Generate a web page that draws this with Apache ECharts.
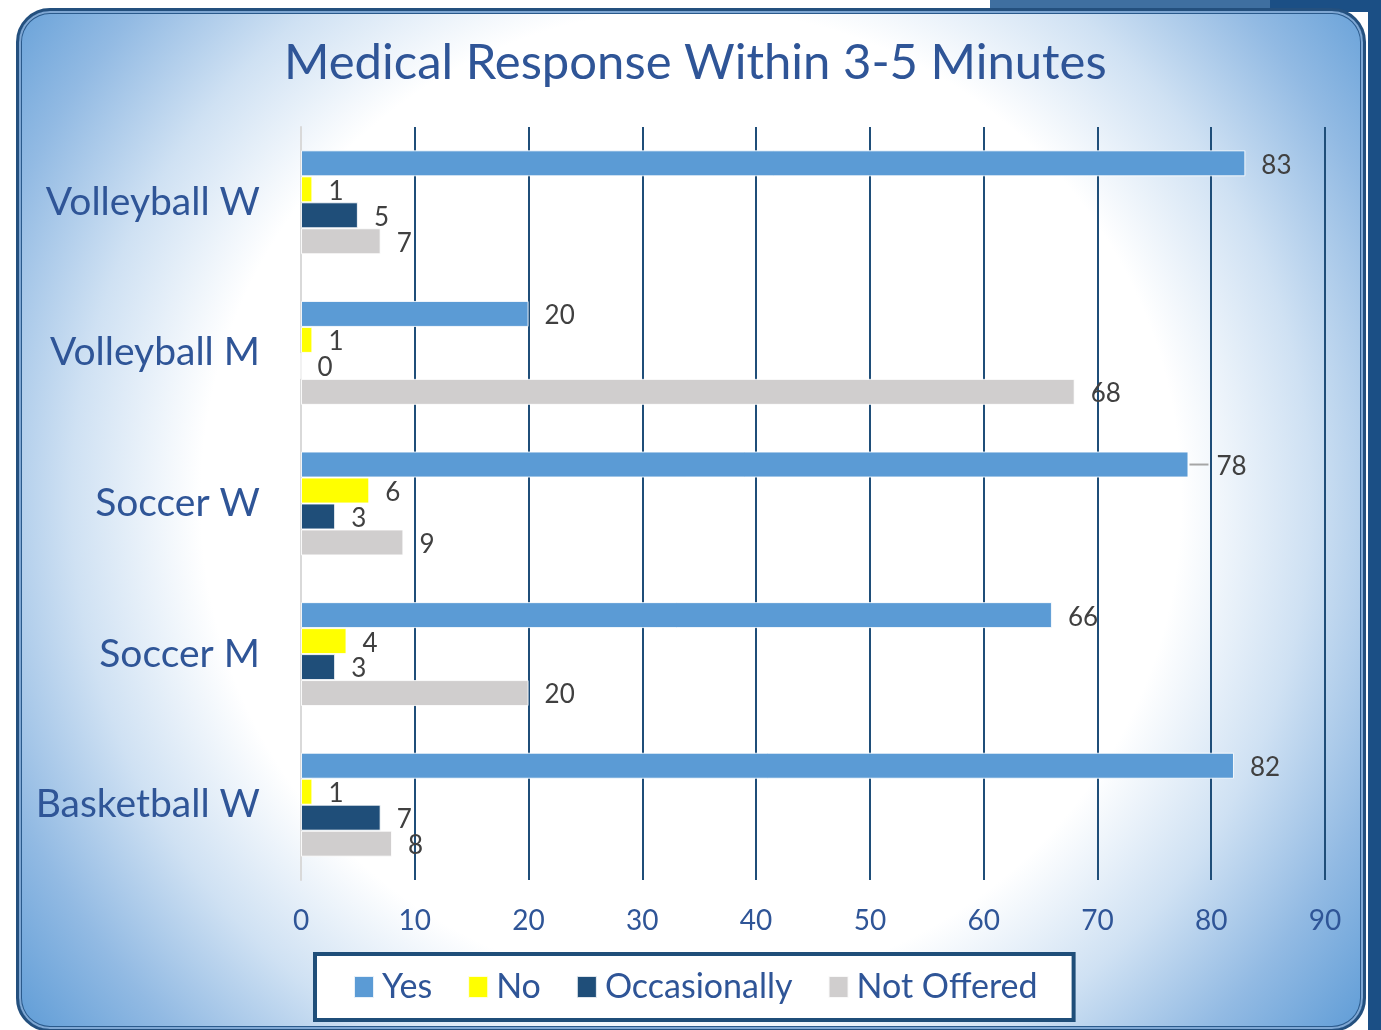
<!DOCTYPE html>
<html>
<head>
<meta charset="utf-8">
<script src="https://cdn.jsdelivr.net/npm/echarts@6/dist/echarts.min.js"></script>
<style>
  html, body { margin: 0; padding: 0; width: 1381px; height: 1030px; overflow: hidden; background: #ffffff; }
  #deco1 { position: absolute; left: 990px; top: 0; width: 391px; height: 10px; background: #3f6fa0; }
  #deco2 { position: absolute; left: 1270px; top: 0; width: 111px; height: 12px; background: #1b4f85; }
  #deco3 { position: absolute; left: 1368px; top: 0; width: 13px; height: 1030px; background: #1b4f85; }
  #frame {
    position: absolute; left: 16px; top: 8px; width: 1350px; height: 1024px;
    border: 3px solid #24507e; border-radius: 34px; box-sizing: border-box;
    box-shadow: inset 0 0 0 2px #7fa7d3, inset 0 0 0 3px #2a5a8c;
    background: radial-gradient(circle 860px at 50% 48%, #ffffff 0%, #ffffff 57%, #cfe1f3 72%, #92bae3 86%, #5d9bd6 100%);
  }
  #chart { position: absolute; left: 0; top: 0; width: 1381px; height: 1030px; }
</style>
</head>
<body>
<div id="deco1"></div><div id="deco2"></div><div id="deco3"></div>
<div id="frame"></div>
<div id="chart"></div>
<script>
const categories = ['Volleyball W', 'Volleyball M', 'Soccer W', 'Soccer M', 'Basketball W'];
const seriesNames = ['Yes', 'No', 'Occasionally', 'Not Offered'];
const yesValues = [83, 20, 78, 66, 82];
const noValues = [1, 1, 6, 4, 1];
const occasionallyValues = [5, 0, 3, 3, 7];
const notOfferedValues = [7, 68, 9, 20, 8];
const xTicks = [0, 10, 20, 30, 40, 50, 60, 70, 80, 90];

const colors = ['#5b9bd5', '#ffff00', '#1f4e79', '#d0cece'];
const allValues = [yesValues, noValues, occasionallyValues, notOfferedValues];
const FONT = 'Lato, "Open Sans", sans-serif';
const blueText = '#2f5597';
const CATEGORY_GAP = 0.31;
const LEADER_ITEM = 2; // "Soccer W" Yes label is pushed out with a leader line

const chart = echarts.init(document.getElementById('chart'), null, { renderer: 'canvas' });

const series = seriesNames.map((name, si) => ({
  name: name,
  type: 'bar',
  data: allValues[si].map((v, di) => {
    if (si === 0 && di === LEADER_ITEM) {
      return { value: v, label: { distance: 28 } };
    }
    return v;
  }),
  itemStyle: { color: colors[si], borderColor: 'rgba(255,255,255,0.85)', borderWidth: 1 },
  barGap: '0%',
  barCategoryGap: (CATEGORY_GAP * 100) + '%',
  label: {
    show: true, position: 'right', distance: 16, offset: [0, 2],
    color: '#404040', fontSize: 26, fontFamily: FONT
  }
}));

// leader line for the displaced label, placed through the axis scales
series.push({
  type: 'custom', silent: true, z: 5,
  data: [[yesValues[LEADER_ITEM], LEADER_ITEM]],
  renderItem: function (params, api) {
    const pt = api.coord([api.value(0), api.value(1)]);
    const band = api.size([0, 1])[1];
    const barH = band * (1 - CATEGORY_GAP) / seriesNames.length;
    const y = pt[1] - band * (1 - CATEGORY_GAP) / 2 + barH / 2;
    return {
      type: 'line',
      shape: { x1: pt[0] + 1, y1: y, x2: pt[0] + 20, y2: y },
      style: { stroke: '#a6a6a6', lineWidth: 2 }
    };
  }
});

chart.setOption({
  backgroundColor: 'transparent',
  animation: false,
  title: {
    text: 'Medical Response Within 3-5 Minutes',
    left: 279, top: 34,
    textStyle: { color: blueText, fontSize: 49, fontWeight: 'normal', fontFamily: FONT }
  },
  legend: {
    data: seriesNames,
    left: 315, bottom: 10,
    backgroundColor: '#ffffff',
    borderColor: '#1f4e79', borderWidth: 4, borderRadius: 0,
    padding: [16, 36, 16, 38],
    itemWidth: 20, itemHeight: 22, itemGap: 35,
    icon: 'rect',
    textStyle: { color: blueText, fontSize: 34, fontFamily: FONT, padding: [0, 0, 0, 3] }
  },
  grid: { left: 301, right: 56, top: 127, bottom: 150, containLabel: false },
  xAxis: {
    type: 'value', min: 0, max: 90, interval: 10,
    axisLine: { show: false }, axisTick: { show: false },
    splitLine: { show: true, showMinLine: false, lineStyle: { color: '#1f4e79', width: 2 } },
    axisLabel: {
      color: blueText, fontSize: 28, fontFamily: FONT, margin: 27,
      formatter: (v) => xTicks.includes(v) ? String(v) : ''
    }
  },
  yAxis: {
    type: 'category', data: categories, inverse: true,
    axisLine: { show: true, lineStyle: { color: '#d9d9d9', width: 2 } },
    axisTick: { show: false },
    axisLabel: { color: blueText, fontSize: 39, fontFamily: FONT, margin: 41 }
  },
  series: series
});
</script>
</body>
</html>
